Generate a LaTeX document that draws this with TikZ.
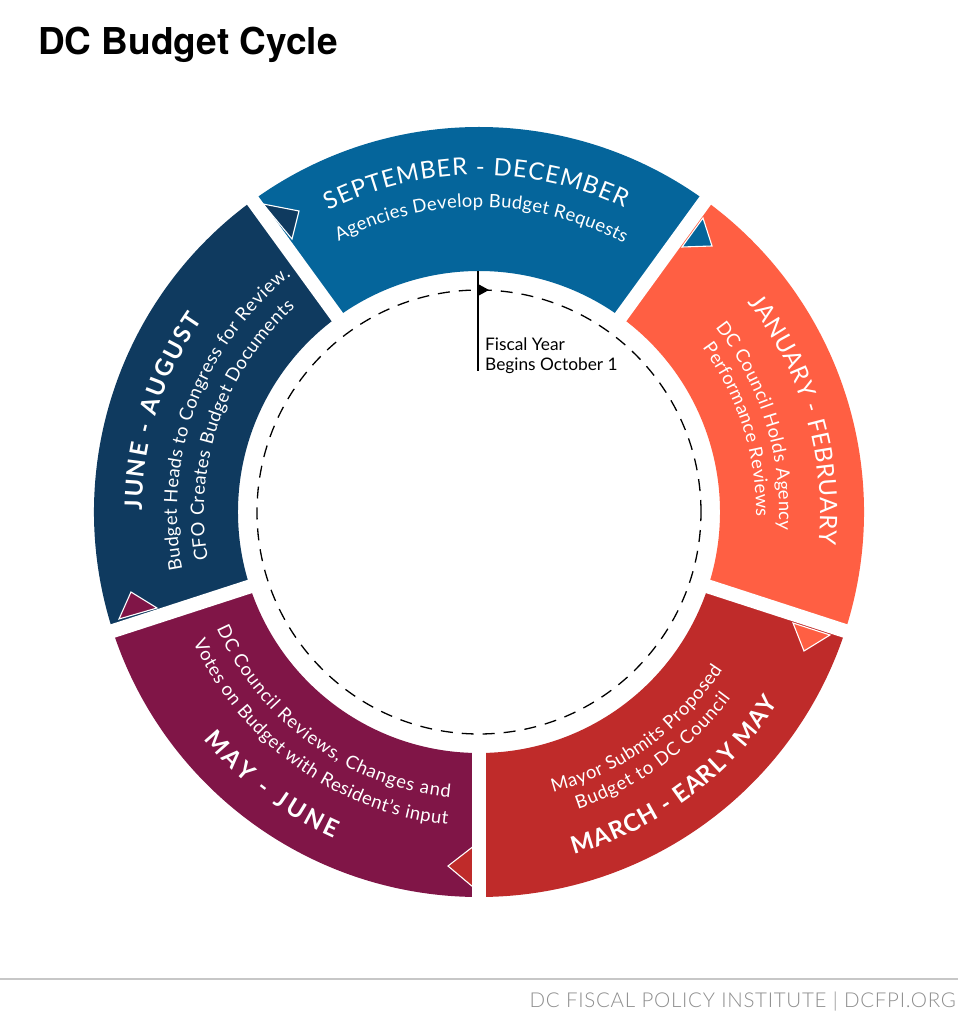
\documentclass[tikz,border=0pt]{standalone}
\usepackage{fontspec}
\setmainfont{Lato}
\newfontfamily\lightfont{Lato Light}
\newfontfamily\titlefont{TeX Gyre Heros}
\usetikzlibrary{decorations.text}

\definecolor{segblue}{HTML}{05659B}
\definecolor{segnavy}{HTML}{0F3A5F}
\definecolor{segorange}{HTML}{FF5F43}
\definecolor{segred}{HTML}{BF2B2A}
\definecolor{segmaroon}{HTML}{801547}
\definecolor{footgray}{HTML}{8E8E8E}

\newcommand{\headfont}{\fontsize{24}{28}\selectfont\bfseries}
\newcommand{\plainhead}{\fontsize{24}{28}\selectfont}
\newcommand{\subfont}{\fontsize{18.4}{22}\selectfont}

% radius, start angle, end angle, text
\newcommand{\ringlabel}[4]{
    \path[decorate, decoration={text along path, text color=white, text align={fit to path}, text={#4}}] (#2:#1) arc[start angle=#2, end angle=#3, radius=#1];
}

\begin{document}
\begin{tikzpicture}[x=1pt, y=1pt, marker/.style={draw=white, line width=1.1pt}]
    \useasboundingbox (-479,-512) rectangle (479,512);

    \node[anchor=base west, inner sep=0pt, font={\titlefont\fontsize{37}{40}\selectfont\bfseries}] (title) at (-441,457) {DC Budget Cycle};

    \foreach \angstart/\angend/\segcolor in {54/126/segblue, 126/198/segnavy, 198/270/segmaroon, 270/342/segred, 342/414/segorange}
        \fill[\segcolor] (\angstart:241) arc[start angle=\angstart, end angle=\angend, radius=241] -- (\angend:385) arc[start angle=\angend, end angle=\angstart, radius=385] -- cycle;

    \fill[segnavy, marker] (-216,308) -- (-180,301) -- (-187,273) -- cycle;
    \fill[segblue, marker] (224,294) -- (233,266) -- (203,265) -- cycle;
    \fill[segorange, marker] (314,-111) -- (325,-139) -- (351,-123) -- cycle;
    \fill[segred, marker] (0,-330) -- (-31,-354) -- (0,-380) -- cycle;
    \fill[segmaroon, marker] (-360,-107) -- (-348,-80) -- (-322,-96) -- cycle;

    \foreach \ang in {54,126,198,270,342}
        \draw[white, line width=14pt] (\ang:230) -- (\ang:400);

    \ringlabel{337}{116.5}{64.5}{|\plainhead|SEPTEMBER - DECEMBER}
    \ringlabel{305}{117.4}{61.7}{|\subfont|Agencies Develop Budget Requests}
    \ringlabel{341}{38}{-5.5}{|\plainhead|JANUARY - FEBRUARY}
    \ringlabel{300}{38}{-3.5}{|\subfont|DC Council Holds Agency}
    \ringlabel{277}{36.3}{-1}{|\subfont|Performance Reviews}
    \ringlabel{355}{-74.5}{-32.5}{|\headfont|MARCH - EARLY MAY}
    \ringlabel{290}{-75.2}{-32.9}{|\subfont|Mayor Submits Proposed}
    \ringlabel{313}{-71.6}{-36.5}{|\subfont|Budget to DC Council}
    \ringlabel{357}{219.5}{246}{|\headfont|MAY - JUNE}
    \ringlabel{287}{204}{264.2}{|\subfont|DC Council Reviews, Changes and}
    \ringlabel{314}{204.5}{264.2}{|\subfont|Votes on Budget with Resident's input}
    \ringlabel{337}{179.7}{145.2}{|\headfont|JUNE - AUGUST}
    \ringlabel{302}{191}{128.5}{|\subfont|Budget Heads to Congress for Review.}
    \ringlabel{275}{190}{132}{|\subfont|CFO Creates Budget Documents}

    \draw[black, line width=1.3pt, dash pattern=on 12pt off 9pt] (0,0) circle[radius=222];

    \coordinate (flagtop) at (-1,241);
    \coordinate (flagfoot) at (-1,141);
    \draw[black, line width=1.2pt] (flagtop) -- (flagfoot);
    \fill[black] (-1,228) -- (10,222) -- (-1,216) -- cycle;
    \node[anchor=base west, align=left, inner sep=0pt, font={\fontsize{17.3}{20}\selectfont}] (fiscal) at (6,141) {Fiscal Year\\Begins October 1};

    \coordinate (ruleleft) at (-479,-467);
    \coordinate (ruleright) at (479,-467);
    \draw[black!22, line width=2pt] (ruleleft) -- (ruleright);
    \node[anchor=base east, inner sep=0pt, text=footgray, font={\lightfont\addfontfeature{LetterSpace=3.5}\fontsize{20.5}{22}\selectfont}] (footer) at (477,-495) {DC FISCAL POLICY INSTITUTE | DCFPI.ORG};
\end{tikzpicture}
\end{document}
